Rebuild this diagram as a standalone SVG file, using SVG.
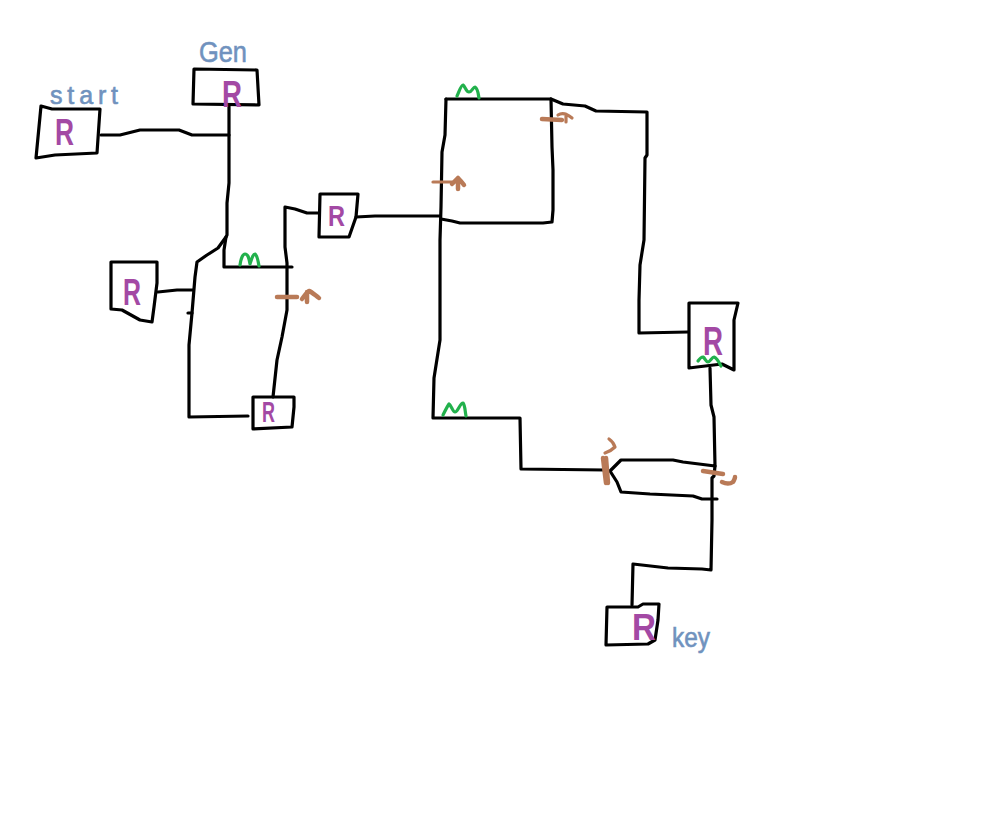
<svg xmlns="http://www.w3.org/2000/svg" width="1000" height="831" viewBox="0 0 1000 831">
<style>
.box{fill:none;stroke:#000;stroke-width:3.2;stroke-linejoin:round;stroke-linecap:round}
.wire{fill:none;stroke:#000;stroke-width:3.2;stroke-linejoin:round;stroke-linecap:round}
.green{fill:none;stroke:#22b14c;stroke-width:3.2;stroke-linejoin:round;stroke-linecap:round}
.brown{fill:none;stroke:#b97a57;stroke-width:3.2;stroke-linejoin:round;stroke-linecap:round}
.thick{stroke-width:4.5}
.r{font-family:"Liberation Sans",Arial,sans-serif;font-weight:bold;fill:#a349a4}
.lab{font-family:"Liberation Sans",Arial,sans-serif;fill:#7092be;stroke:#7092be;stroke-width:.6}
</style>
<rect width="1000" height="831" fill="#fff"/>
<g id="connectors">
<path class="wire" d="M101 135L120 135L128 133L140 130L179 130L192 135L229 135"/>
<path class="wire" d="M229 106L229 183L227 203L227 235L226 237L218 248L207 255L197 262L195 277L192 313L189 345L189 417L248 416"/>
<path class="wire" d="M188 313L192 313"/>
<path class="wire" d="M226 237L224 250L224 267L292 267"/>
<path class="wire" d="M158 292L177 290L193 290"/>
<path class="wire" d="M318 213L307 213L295 209L285 207L285 247L287 263L287 310L282 337L277 360L273 397"/>
<path class="wire" d="M356 217L375 216L440 216"/>
<path class="wire" d="M446 99L445 135L442 152L441 207L440 240L440 340L434 378L433 418L520 418L521 469L605 470"/>
<path class="wire" d="M446 99L551 99L552 147L553 170L553 210L552 222L543 223L460 223L452 221L441 219"/>
<path class="wire" d="M551 99L563 104L585 106L596 111L647 112L647 155L645 158L644 240L640 265L639 300L639 333L688 332"/>
<path class="wire" d="M710 368L711 405L714 417L715 466L683 462L673 460L621 460L610 471L617 482L621 492L650 494L693 496L702 499L717 499"/>
<path class="wire" d="M715 466L714 476L712 478L712 520L711 570L702 569L668 568L633 564L632 605"/>
</g>
<g id="node-start">
<path class="box" d="M41 106L52 109L100 109L97 153L55 155L36 158Z"/>
<text class="r" x="55" y="145" font-size="37" textLength="19" lengthAdjust="spacingAndGlyphs">R</text>
<text class="lab" x="50" y="104" font-size="25" textLength="68" lengthAdjust="spacing">start</text>
</g>
<g id="node-gen">
<path class="box" d="M194 69L257 70L259 105L193 104Z"/>
<text class="r" x="222" y="107" font-size="37" textLength="20" lengthAdjust="spacingAndGlyphs">R</text>
<text class="lab" x="199" y="62" font-size="30" textLength="48" lengthAdjust="spacingAndGlyphs">Gen</text>
</g>
<g id="node-left">
<path class="box" d="M111 262L157 262L157 283L154 307L152 322L140 320L122 310L111 309Z"/>
<text class="r" x="123" y="305" font-size="37" textLength="18" lengthAdjust="spacingAndGlyphs">R</text>
</g>
<g id="node-top">
<path class="box" d="M320 194L358 194L356 217L349 237L319 237Z"/>
<text class="r" x="328" y="226" font-size="29" textLength="17" lengthAdjust="spacingAndGlyphs">R</text>
</g>
<g id="node-small">
<path class="box" d="M253 397L294 397L294 407L292 427L253 429Z"/>
<text class="r" x="262" y="422" font-size="29" textLength="13" lengthAdjust="spacingAndGlyphs">R</text>
</g>
<g id="node-right">
<path class="box" d="M689 303L738 303L734 320L734 370L722 364L697 367L689 368Z"/>
<text class="r" x="703" y="355" font-size="40" textLength="20" lengthAdjust="spacingAndGlyphs">R</text>
</g>
<g id="node-key">
<path class="box" d="M607 607L638 607L643 604L659 604L658 620L655 640L648 644L606 645Z"/>
<text class="r" x="632" y="640" font-size="36" textLength="24" lengthAdjust="spacingAndGlyphs">R</text>
<text class="lab" x="672" y="647" font-size="27" textLength="38" lengthAdjust="spacingAndGlyphs">key</text>
</g>
<g id="marks">
<path class="green" d="M240 265C241 258 243 254 245 254C248 254 249 258 250 264C252 258 253 254 255 254C257 255 258 260 259 266"/>
<path class="green" d="M457 96C459 92 461 85 463 85C465 86 466 92 469 92C472 92 473 87 475 87C478 89 478 93 479 98"/>
<path class="green" d="M443 415C445 411 448 405 449 404C451 405 453 412 455 412C458 412 460 403 463 403C465 405 465 411 466 416"/>
<path class="green" d="M698 361C700 358 702 357 703 357C705 358 706 362 708 362C710 362 712 357 714 357C717 358 719 362 721 366"/>
<path class="brown thick" d="M277 297L297 297"/>
<path class="brown thick" d="M302 299C305 295 307 292 309 291C312 292 316 296 319 298M307 292L307 302"/>
<path class="brown" d="M433 182L452 182"/>
<path class="brown thick" d="M452 184C454 182 456 180 458 178C460 180 462 182 464 185M458 178L458 189"/>
<path class="brown thick" d="M542 119L562 120"/>
<path class="brown" d="M558 115C561 113 566 113 572 118M566 114L566 122"/>
<path class="brown thick" d="M603 458L606 483M606 458L608 483"/>
<path class="brown" d="M609 439C612 441 614 444 615 447C612 450 608 452 605 453"/>
<path class="brown thick" d="M703 471L723 474"/>
<path class="brown thick" d="M722 482C726 484 730 484 733 482C734 480 735 479 735 477"/>
</g>
</svg>
